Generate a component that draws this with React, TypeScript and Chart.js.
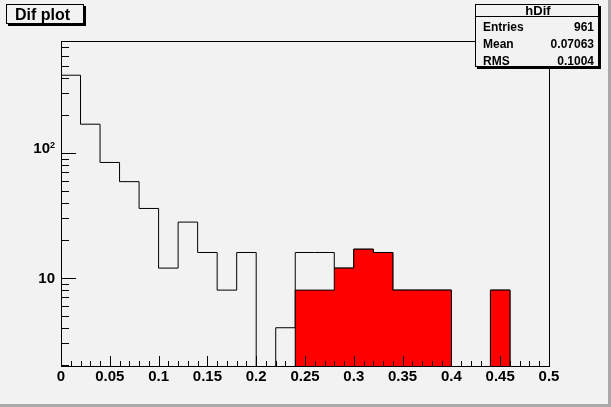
import React, { useEffect, useRef } from "react";
import { Chart, registerables } from "chart.js";

Chart.register(...registerables);

// ---- data ----
const binWidth = 0.02;
const binLowEdges = [
  0, 0.02, 0.04, 0.06, 0.08, 0.1, 0.12, 0.14, 0.16, 0.18, 0.2, 0.22, 0.24,
  0.26, 0.28, 0.3, 0.32, 0.34, 0.36, 0.38, 0.4, 0.42, 0.44, 0.46, 0.48,
];
const allCounts = [
  419, 170, 84, 59, 36, 12, 28, 16, 8, 16, 0, 4, 16, 16, 12, 17, 16, 8, 8, 8,
  0, 0, 8, 0, 0,
];
const selCounts = [
  0, 0, 0, 0, 0, 0, 0, 0, 0, 0, 0, 0, 8, 8, 12, 17, 16, 8, 8, 8, 0, 0, 8, 0,
  0,
];

const xTickValues = [0, 0.05, 0.1, 0.15, 0.2, 0.25, 0.3, 0.35, 0.4, 0.45, 0.5];
const xTickLabels = ["0", "0.05", "0.1", "0.15", "0.2", "0.25", "0.3", "0.35", "0.4", "0.45", "0.5"];
const yMajorTicks = [10, 100];
const yTickBase = ["10", "10"];
const yTickExp = ["", "2"];
const yDecades = [1, 10, 100];

const titleText = "Dif plot";
const statsTitle = "hDif";
const statsNames = ["Entries", "Mean", "RMS"];
const statsValues = ["961", "0.07063", "0.1004"];

const yMin = 1.977;
const yMax = 787;
const FLOOR = 1; // value used for empty bins (below visible range)

function stepPoints(counts: number[]) {
  // with stepped 'before': the segment from point i to point i+1 keeps point i's value
  const pts: { x: number; y: number }[] = [{ x: binLowEdges[0], y: FLOOR }];
  counts.forEach((c, i) => pts.push({ x: binLowEdges[i], y: c > 0 ? c : FLOOR }));
  pts.push({ x: binLowEdges[binLowEdges.length - 1] + binWidth, y: FLOOR });
  return pts;
}

const BG = "#f2f2f2";
const FONT = "'Liberation Sans', Arial, Helvetica, sans-serif";

const decorPlugin = {
  id: "rootDecor",
  beforeDraw(chart: any) {
    const ctx = chart.ctx;
    ctx.save();
    ctx.fillStyle = BG;
    ctx.fillRect(0, 0, chart.width, chart.height);
    ctx.fillStyle = "#a9a9a9";
    ctx.fillRect(chart.width - 3, 0, 3, chart.height);
    ctx.fillRect(0, chart.height - 3, chart.width, 3);
    ctx.restore();
  },
  afterDatasetsDraw(chart: any) {
    const ctx = chart.ctx;
    const xs = chart.scales.x;
    const ys = chart.scales.y;
    const a = chart.chartArea;
    const L = Math.round(a.left), R = Math.round(a.right), T = Math.round(a.top), B = Math.round(a.bottom);
    ctx.save();
    ctx.strokeStyle = "#000";
    ctx.lineWidth = 1;
    ctx.strokeRect(L + 0.5, T + 0.5, R - L, B - T);

    ctx.beginPath();
    for (let i = 0; i < xTickValues.length; i++) {
      const px = Math.round(xs.getPixelForValue(xTickValues[i])) + 0.5;
      ctx.moveTo(px, B);
      ctx.lineTo(px, B - 10);
      if (i < xTickValues.length - 1) {
        const step = (xTickValues[i + 1] - xTickValues[i]) / 5;
        for (let k = 1; k < 5; k++) {
          const mx = Math.round(xs.getPixelForValue(xTickValues[i] + k * step)) + 0.5;
          ctx.moveTo(mx, B);
          ctx.lineTo(mx, B - 5);
        }
      }
    }
    for (const d of yDecades) {
      for (let m = 1; m <= 9; m++) {
        const v = d * m;
        if (v < yMin || v > yMax) continue;
        const py = Math.round(ys.getPixelForValue(v)) + 0.5;
        const len = m === 1 ? 15 : 8;
        ctx.moveTo(L, py);
        ctx.lineTo(L + len, py);
      }
    }
    ctx.stroke();

    ctx.fillStyle = "#000";
    ctx.font = `bold 15px ${FONT}`;
    ctx.textAlign = "center";
    ctx.textBaseline = "alphabetic";
    xTickValues.forEach((v, i) => {
      ctx.fillText(xTickLabels[i], xs.getPixelForValue(v), B + 15);
    });

    yMajorTicks.forEach((v, i) => {
      const py = ys.getPixelForValue(v);
      const right = L - 6;
      if (yTickExp[i]) {
        ctx.font = `bold 9px ${FONT}`;
        ctx.textAlign = "right";
        const ew = ctx.measureText(yTickExp[i]).width;
        ctx.fillText(yTickExp[i], right, py - 5);
        ctx.font = `bold 15px ${FONT}`;
        ctx.fillText(yTickBase[i], right - ew, py + 0.5);
      } else {
        ctx.font = `bold 15px ${FONT}`;
        ctx.textAlign = "right";
        ctx.fillText(yTickBase[i], right, py + 5.5);
      }
    });
    ctx.restore();
  },
  afterDraw(chart: any) {
    const ctx = chart.ctx;
    ctx.save();
    ctx.fillStyle = "#000";
    ctx.fillRect(8, 6, 78, 20);
    ctx.fillStyle = BG;
    ctx.fillRect(6, 4, 78, 20);
    ctx.strokeStyle = "#000";
    ctx.lineWidth = 1;
    ctx.strokeRect(6.5, 4.5, 77, 19);
    ctx.fillStyle = "#000";
    ctx.font = `bold 16px ${FONT}`;
    ctx.textAlign = "left";
    ctx.textBaseline = "alphabetic";
    ctx.fillText(titleText, 15, 19.5);

    const sx = 475, sy = 4, sw = 123, sh = 62;
    ctx.fillStyle = "#000";
    ctx.fillRect(sx + 2, sy + 2, sw + 1, sh + 1);
    ctx.fillStyle = BG;
    ctx.fillRect(sx, sy, sw + 1, sh + 1);
    ctx.strokeRect(sx + 0.5, sy + 0.5, sw, sh);
    ctx.beginPath();
    ctx.moveTo(sx, 16.5);
    ctx.lineTo(sx + sw + 1, 16.5);
    ctx.stroke();
    ctx.fillStyle = "#000";
    ctx.font = `bold 13px ${FONT}`;
    ctx.textAlign = "center";
    ctx.fillText(statsTitle, 538, 14.5);
    ctx.font = `bold 12px ${FONT}`;
    const rowsY = [31, 48, 65];
    statsNames.forEach((n, i) => {
      ctx.textAlign = "left";
      ctx.fillText(n, 483, rowsY[i]);
      ctx.textAlign = "right";
      ctx.fillText(statsValues[i], 594, rowsY[i]);
    });
    ctx.restore();
  },
};

export default function App() {
  const ref = useRef<HTMLCanvasElement | null>(null);
  useEffect(() => {
    document.body.style.margin = "0";
    const canvas = ref.current!;
    const chart = new Chart(canvas, {
      type: "line",
      data: {
        datasets: [
          {
            label: "sel",
            data: stepPoints(selCounts),
            stepped: "before",
            borderColor: "#000",
            backgroundColor: "#ff0000",
            borderWidth: 1,
            pointRadius: 0,
            fill: "start",
          },
          {
            label: "hDif",
            data: stepPoints(allCounts),
            stepped: "before",
            borderColor: "#000",
            borderWidth: 1,
            pointRadius: 0,
            fill: false,
          },
        ],
      },
      options: {
        animation: false,
        responsive: false,
        devicePixelRatio: 1,
        events: [],
        layout: { padding: { left: 61, right: 62, top: 41, bottom: 41 } },
        plugins: { legend: { display: false }, tooltip: { enabled: false }, title: { display: false } },
        scales: {
          x: { type: "linear", min: 0, max: 0.5, display: false },
          y: { type: "logarithmic", min: yMin, max: yMax, display: false },
        },
      },
      plugins: [decorPlugin],
    });
    return () => chart.destroy();
  }, []);
  return <canvas ref={ref} width={611} height={407} style={{ display: "block" }} />;
}
